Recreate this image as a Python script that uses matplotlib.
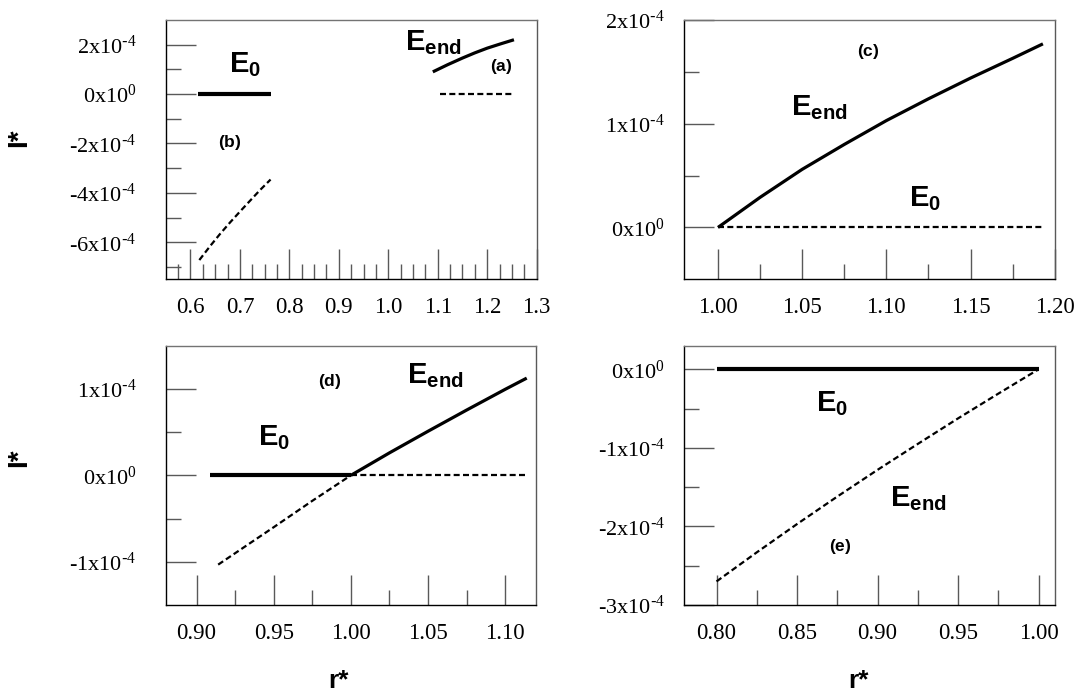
import matplotlib
matplotlib.use("Agg")
import matplotlib.pyplot as plt

plt.rcParams['font.family'] = ['Liberation Serif', 'DejaVu Serif']
plt.rcParams['mathtext.default'] = 'regular'

# === DATA ===
# panel (a) / (b)
b_e0_x = [0.615, 0.762]
b_e0_y = [0.0, 0.0]
b_end_x = [0.618, 0.64, 0.66, 0.68, 0.70, 0.72, 0.74, 0.762]
b_end_y = [-6.72e-4, -6.15e-4, -5.66e-4, -5.20e-4, -4.76e-4, -4.33e-4, -3.90e-4, -3.46e-4]
a_end_x = [1.09, 1.12, 1.15, 1.175, 1.20, 1.228, 1.254]
a_end_y = [0.90e-4, 1.19e-4, 1.46e-4, 1.67e-4, 1.86e-4, 2.04e-4, 2.20e-4]
a_e0_x = [1.105, 1.254]
a_e0_y = [0.0, 0.0]

# panel (c)
c_end_x = [1.00, 1.025, 1.05, 1.075, 1.10, 1.125, 1.15, 1.175, 1.193]
c_end_y = [0.0, 0.29e-4, 0.56e-4, 0.80e-4, 1.03e-4, 1.24e-4, 1.44e-4, 1.63e-4, 1.77e-4]
c_e0_x = [1.00, 1.193]
c_e0_y = [0.0, 0.0]

# panel (d)
d_e0_x = [0.909, 1.00]
d_e0_y = [0.0, 0.0]
d_end_x = [1.00, 1.025, 1.05, 1.075, 1.10, 1.114]
d_end_y = [0.0, 0.26e-4, 0.51e-4, 0.755e-4, 0.995e-4, 1.125e-4]
d_e0_dash_x = [1.00, 1.114]
d_e0_dash_y = [0.0, 0.0]
d_end_dash_x = [0.914, 0.95, 0.975, 1.00]
d_end_dash_y = [-1.033e-4, -0.60e-4, -0.295e-4, 0.0]

# panel (e)
e_e0_x = [0.80, 1.00]
e_e0_y = [0.0, 0.0]
e_end_x = [0.80, 0.825, 0.85, 0.875, 0.90, 0.925, 0.95, 0.975, 1.00]
e_end_y = [-2.70e-4, -2.33e-4, -1.97e-4, -1.62e-4, -1.28e-4, -0.95e-4, -0.625e-4, -0.31e-4, 0.0]

# === TICKS ===
a_xticks = [0.6, 0.7, 0.8, 0.9, 1.0, 1.1, 1.2, 1.3]
a_xlabels = ['0.6', '0.7', '0.8', '0.9', '1.0', '1.1', '1.2', '1.3']
a_xminor = [0.575, 0.625, 0.65, 0.675, 0.725, 0.75, 0.775, 0.825, 0.85, 0.875,
            0.925, 0.95, 0.975, 1.025, 1.05, 1.075, 1.125, 1.15, 1.175,
            1.225, 1.25, 1.275]
a_yticks = [-6e-4, -4e-4, -2e-4, 0.0, 2e-4]
a_ylabels = ['-6x10$^{\\text{-}4}$', '-4x10$^{\\text{-}4}$', '-2x10$^{\\text{-}4}$',
             '0x10$^{0}$', '2x10$^{\\text{-}4}$']
a_yminor = [-7e-4, -5e-4, -3e-4, -1e-4, 1e-4]

c_xticks = [1.00, 1.05, 1.10, 1.15, 1.20]
c_xlabels = ['1.00', '1.05', '1.10', '1.15', '1.20']
c_xminor = [1.025, 1.075, 1.125, 1.175]
c_yticks = [0.0, 1e-4, 2e-4]
c_ylabels = ['0x10$^{0}$', '1x10$^{\\text{-}4}$', '2x10$^{\\text{-}4}$']
c_yminor = [0.5e-4, 1.5e-4]

d_xticks = [0.90, 0.95, 1.00, 1.05, 1.10]
d_xlabels = ['0.90', '0.95', '1.00', '1.05', '1.10']
d_xminor = [0.925, 0.975, 1.025, 1.075]
d_yticks = [-1e-4, 0.0, 1e-4]
d_ylabels = ['-1x10$^{\\text{-}4}$', '0x10$^{0}$', '1x10$^{\\text{-}4}$']
d_yminor = [-0.5e-4, 0.5e-4]

e_xticks = [0.80, 0.85, 0.90, 0.95, 1.00]
e_xlabels = ['0.80', '0.85', '0.90', '0.95', '1.00']
e_xminor = [0.825, 0.875, 0.925, 0.975]
e_yticks = [-3e-4, -2e-4, -1e-4, 0.0]
e_ylabels = ['-3x10$^{\\text{-}4}$', '-2x10$^{\\text{-}4}$', '-1x10$^{\\text{-}4}$',
             '0x10$^{0}$']
e_yminor = [-2.5e-4, -1.5e-4, -0.5e-4]

W, H = 1081, 694
fig = plt.figure(figsize=(W / 100, H / 100), dpi=100)


def make_axes(l, t, r, b, xlim, ylim, xt, xl, xm, yt, yl, ym, ypad):
    ax = fig.add_axes([l / W, 1 - b / H, (r - l) / W, (b - t) / H])
    ax.set_xlim(xlim)
    ax.set_ylim(ylim)
    ax.set_xticks(xt, xl)
    ax.set_xticks(xm, minor=True)
    ax.set_yticks(yt, yl)
    ax.set_yticks(ym, minor=True)
    ax.tick_params(which='both', direction='in', width=1.0, color='0.35',
                   top=False, right=False)
    ax.tick_params(which='major', length=21.5)
    ax.tick_params(which='minor', length=10.8)
    ax.tick_params(axis='x', pad=13, labelsize=16.5)
    ax.tick_params(axis='y', pad=ypad, labelsize=16)
    for s in ax.spines.values():
        s.set_linewidth(1.0)
    ax.spines['top'].set_color('0.45')
    ax.spines['right'].set_color('0.35')
    return ax


def lab(ax, x, y, s, size=21):
    ax.text(x, y, r'$' + s + '$', family='Liberation Sans', weight='bold',
            fontsize=size, ha='center', va='center')


SOLID = dict(color='black', lw=2.3, solid_capstyle='butt')
THICK = dict(color='black', lw=3.0, solid_capstyle='butt')
DASH = dict(color='black', lw=1.6, dashes=(2.7, 1.5))

# (a)/(b)
ax = make_axes(165.7, 20, 536.7, 279.3, (0.55, 1.30), (-7.5e-4, 3e-4),
               a_xticks, a_xlabels, a_xminor, a_yticks, a_ylabels, a_yminor, 21)
ax.plot(b_e0_x, b_e0_y, **THICK)
ax.plot(b_end_x, b_end_y, **DASH)
ax.plot(a_end_x, a_end_y, **SOLID)
ax.plot(a_e0_x, a_e0_y, **DASH)
lab(ax, 0.711, 1.18e-4, 'E_{0}')
lab(ax, 1.091, 2.07e-4, 'E_{end}')
lab(ax, 1.228, 1.11e-4, '(a)', 12.5)
lab(ax, 0.680, -1.95e-4, '(b)', 12.5)

# (c)
ax = make_axes(684.3, 20, 1054.7, 279.3, (0.98, 1.20), (-0.5e-4, 2e-4),
               c_xticks, c_xlabels, c_xminor, c_yticks, c_ylabels, c_yminor, 14)
ax.plot(c_end_x, c_end_y, **SOLID)
ax.plot(c_e0_x, c_e0_y, **DASH)
lab(ax, 1.089, 1.697e-4, '(c)', 12.5)
lab(ax, 1.060, 1.152e-4, 'E_{end}')
lab(ax, 1.123, 0.279e-4, 'E_{0}')

# (d)
ax = make_axes(165.7, 345.7, 536, 605, (0.88, 1.12), (-1.5e-4, 1.5e-4),
               d_xticks, d_xlabels, d_xminor, d_yticks, d_ylabels, d_yminor, 21)
ax.plot(d_e0_x, d_e0_y, **THICK)
ax.plot(d_end_x, d_end_y, **SOLID)
ax.plot(d_e0_dash_x, d_e0_dash_y, **DASH)
ax.plot(d_end_dash_x, d_end_dash_y, **DASH)
lab(ax, 0.986, 1.087e-4, '(d)', 12.5)
lab(ax, 1.055, 1.154e-4, 'E_{end}')
lab(ax, 0.950, 0.441e-4, 'E_{0}')

# (e)
ax = make_axes(684.3, 345.7, 1054.7, 605, (0.78, 1.01), (-3e-4, 0.3e-4),
               e_xticks, e_xlabels, e_xminor, e_yticks, e_ylabels, e_yminor, 14)
ax.plot(e_e0_x, e_e0_y, **THICK)
ax.plot(e_end_x, e_end_y, **DASH)
lab(ax, 0.872, -0.443e-4, 'E_{0}')
lab(ax, 0.925, -1.64e-4, 'E_{end}')
lab(ax, 0.877, -2.254e-4, '(e)', 12.5)

# axis titles
for yc in (138, 458):
    fig.text(18.7 / W, 1 - yc / H, 'I*', family='Liberation Sans', weight='bold',
             fontsize=20, rotation=90, ha='center', va='center')
for xc in (339, 858):
    fig.text(xc / W, 1 - 681 / H, 'r*', family='Liberation Sans', weight='bold',
             fontsize=19, ha='center', va='center')

fig.savefig('out.png', dpi=100)
